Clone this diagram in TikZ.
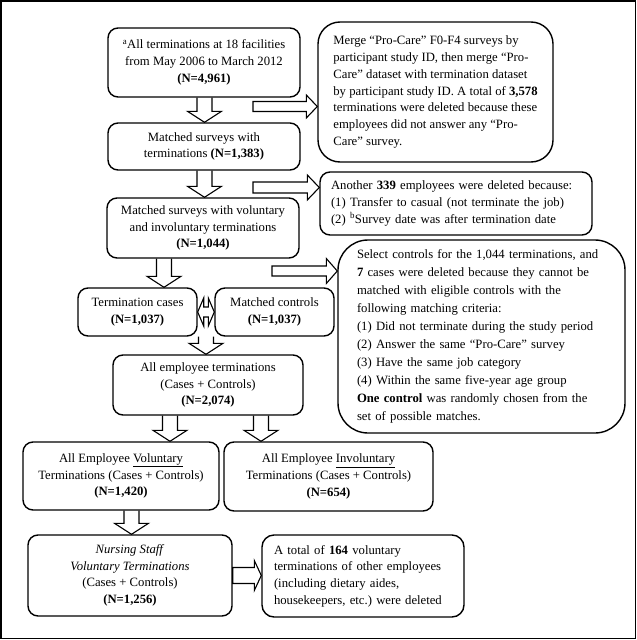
\documentclass[tikz,border=0pt]{standalone}
\usepackage{fontspec}
\setmainfont{Liberation Serif}
\usetikzlibrary{calc}

\newcommand{\blkdown}[3]{\draw[blk] let \p1=(#2.south), \p2=(#3.north) in (#1-7.5pt,\y1) -- (#1-7.5pt,\y2+11pt) -- (#1-17pt,\y2+11pt) -- (#1,\y2) -- (#1+17pt,\y2+11pt) -- (#1+7.5pt,\y2+11pt) -- (#1+7.5pt,\y1);}
\newcommand{\blkright}[5]{\draw[blk] let \p1=(#1), \p2=(#1 -| #2.west) in (\x1,\y1+#3) -- (\x2-#5,\y1+#3) -- (\x2-#5,\y1+#4) -- (\x2,\y1) -- (\x2-#5,\y1-#4) -- (\x2-#5,\y1-#3) -- (\x1,\y1-#3) -- cycle;}
\newcommand{\blkboth}[2]{\draw[blk] let \p1=(#1.east), \p2=(#2.west) in (\x1,\y1) -- (\x1+6pt,\y1+14pt) -- (\x1+6pt,\y1+5pt) -- (\x2-6pt,\y1+5pt) -- (\x2-6pt,\y1+14pt) -- (\x2,\y1) -- (\x2-6pt,\y1-14pt) -- (\x2-6pt,\y1-5pt) -- (\x1+6pt,\y1-5pt) -- (\x1+6pt,\y1-14pt) -- cycle;}

\begin{document}
\begin{tikzpicture}[x=1pt, y=-1pt,
  box/.style={draw, line width=1.4pt, rounded corners=10pt, align=center, inner sep=0pt, font=\fontsize{12.7}{16.7}\selectfont\frenchspacing},
  note/.style={box, align=left},
  blk/.style={draw, line width=1.1pt, line join=miter}]
\useasboundingbox (0,0) rectangle (637,640);
\draw[line width=1.6pt] (0.8,0.8) rectangle (635.5,638.5);
\node[box, minimum width=192pt, minimum height=69pt] (all) at (204,62.5) {\textsuperscript{a}All terminations at 18 facilities\\from May 2006 to March 2012\\\textbf{(N=4,961)}};
\node[box, minimum width=192pt, minimum height=47pt] (surv) at (204,146.5) {Matched surveys with\\terminations \textbf{(N=1,383)}};
\node[box, minimum width=192pt, minimum height=60pt] (volinv) at (203,228) {Matched surveys with voluntary\\and involuntary terminations\\\textbf{(N=1,044)}};
\node[box, minimum width=119pt, minimum height=48pt] (cases) at (137.5,312) {Termination cases\\\textbf{(N=1,037)}};
\node[box, minimum width=119pt, minimum height=48pt] (ctrls) at (274.5,312) {Matched controls\\\textbf{(N=1,037)}};
\node[box, minimum width=190pt, minimum height=60pt] (emp) at (208,385) {All employee terminations\\(Cases + Controls)\\\textbf{(N=2,074)}};
\node[box, minimum width=196pt, minimum height=68pt] (vol) at (121,476) {All Employee \underline{Voluntary}\\Terminations (Cases + Controls)\\\textbf{(N=1,420)}};
\node[box, minimum width=209pt, minimum height=69pt] (invol) at (328.5,476.5) {All Employee \underline{Involuntary}\\Terminations (Cases + Controls)\\\textbf{(N=654)}};
\node[box, minimum width=204pt, minimum height=81pt] (nurse) at (130,575.5) {\textit{Nursing Staff}\\\textit{Voluntary Terminations}\\(Cases + Controls)\\\textbf{(N=1,256)}};
\node[note, minimum width=235pt, minimum height=140pt, rounded corners=22pt] (merge) at (435.5,92) {Merge “Pro-Care” F0-F4 surveys by\\participant study ID, then merge “Pro-\\Care” dataset with termination dataset\\by participant study ID. A total of \textbf{3,578}\\terminations were deleted because these\\employees did not answer any “Pro-\\Care” survey.};
\node[note, text width=250pt, inner xsep=11pt, minimum height=63pt] (another) at (456,203.5) {Another \textbf{339} employees were deleted because:\\(1) Transfer to casual (not terminate the job)\\(2) \textsuperscript{b}Survey date was after termination date};
\node[note, text width=249pt, inner xsep=19pt, minimum height=193pt, rounded corners=30pt, font=\fontsize{12.7}{18}\selectfont] (select) at (481.5,336.5) {Select controls for the 1,044 terminations, and\\\textbf{7} cases were deleted because they cannot be\\matched with eligible controls with the\\following matching criteria:\\(1) Did not terminate during the study period\\(2) Answer the same “Pro-Care” survey\\(3) Have the same job category\\(4) Within the same five-year age group\\\textbf{One control} was randomly chosen from the\\set of possible matches.};
\node[note, text width=178pt, inner xsep=12pt, minimum height=82pt, rounded corners=12pt] (other) at (363,576) {A total of \textbf{164} voluntary\\terminations of other employees\\(including dietary aides,\\housekeepers, etc.) were deleted};
\coordinate (t1) at (253,106.5);
\coordinate (t2) at (253,187.5);
\coordinate (t3) at (272,271);
\blkdown{204.5pt}{all}{surv}
\blkdown{204.5pt}{surv}{volinv}
\blkdown{164pt}{volinv}{cases}
\blkdown{206pt}{cases}{emp}
\blkdown{170pt}{emp}{vol}
\blkdown{261pt}{emp}{invol}
\blkdown{131.5pt}{vol}{nurse}
\blkright{t1}{merge}{5pt}{11.5pt}{11pt}
\blkright{t2}{another}{5.5pt}{12.5pt}{12pt}
\blkright{t3}{select}{5pt}{12.5pt}{11pt}
\blkright{nurse.east}{other}{8pt}{15pt}{7pt}
\blkboth{cases}{ctrls}
\end{tikzpicture}
\end{document}
